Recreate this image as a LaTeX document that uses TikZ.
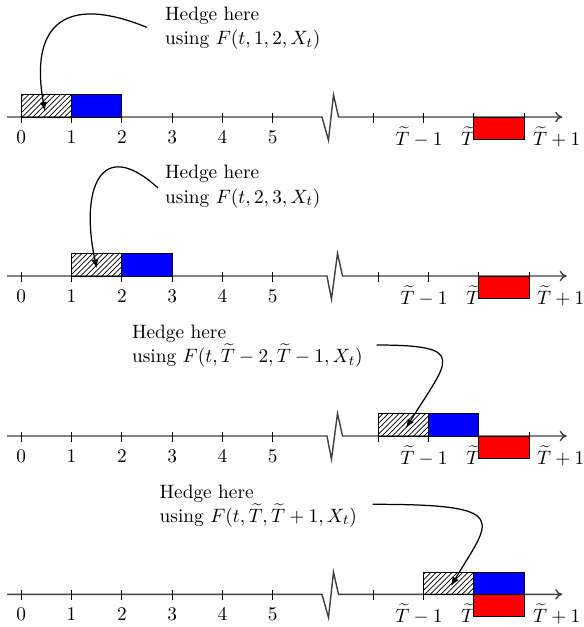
\documentclass[tikz,border=0pt]{standalone}
\usetikzlibrary{patterns,arrows.meta}
\newcommand\hedgefont{\fontsize{10.95}{13.6}\selectfont}
\begin{document}
\begin{tikzpicture}[
  axisline/.style={draw=black!75,line width=0.8pt,-{To[length=4pt,width=6pt]}},
  tickmark/.style={draw=black,line width=0.4pt},
  numlabel/.style={font=\hedgefont,anchor=base,inner sep=0pt},
  hedgetext/.style={font=\hedgefont,anchor=base west,inner sep=0pt},
  hatchbox/.style={draw=black,line width=0.5pt,pattern=north east lines},
  bluebox/.style={draw=black,line width=0.5pt,fill=blue},
  redbox/.style={draw=black,line width=0.5pt,fill=red},
  hedgearrow/.style={draw=black,line width=0.7pt,-{Latex[length=5pt,width=4pt]}}
]
\useasboundingbox (-0.4237,-10.145) rectangle (11.174,2.327);

% ---------------- Row 1 ----------------
\begin{scope}
\draw[axisline] (-0.284,0) -- (5.98,0) -- (6.11,-0.46) -- (6.21,0.44) -- (6.31,0) -- (10.76,0);
\foreach \i in {0,...,5} {\draw[tickmark] (\i,0.08) -- (\i,-0.12);
  \node[numlabel] (ra\i) at (\i,-0.52) {$\i$};}
\foreach \i in {7,8,9,10} \draw[tickmark] (\i,0.08) -- (\i,-0.12);
\node[numlabel] (raTm) at (7.91,-0.56) {$\widetilde{T}-1$};
\node[numlabel] (raT) at (8.89,-0.56) {$\widetilde{T}$};
\node[numlabel] (raTp) at (10.65,-0.56) {$\widetilde{T}+1$};
\draw[hatchbox] (0,0) rectangle (1,0.44);
\draw[bluebox] (1,0) rectangle (2,0.44);
\draw[redbox] (9,0) rectangle (10,-0.44);
\node[hedgetext] (rat) at (2.855,1.916) {\vtop{\hbox{Hedge here}\hbox{using $F(t,1,2,X_t)$}}};
\coordinate (ras) at (2.495,1.784);
\coordinate (rae) at (0.471,0.119);
\draw[hedgearrow] (ras) .. controls (0.770,2.486) and (0.173,1.731) .. (rae);
\end{scope}

% ---------------- Row 2 ----------------
\begin{scope}[yshift=-3.163cm]
\draw[axisline] (-0.284,0) -- (6.08,0) -- (6.17,-0.46) -- (6.29,0.45) -- (6.39,0) -- (10.85,0);
\foreach \i in {0,...,5} {\draw[tickmark] (\i,0.08) -- (\i,-0.12);
  \node[numlabel] (rb\i) at (\i,-0.52) {$\i$};}
\foreach \i in {7.1,8.1,9.1,10.1} \draw[tickmark] (\i,0.08) -- (\i,-0.12);
\node[numlabel] (rbTm) at (8.01,-0.56) {$\widetilde{T}-1$};
\node[numlabel] (rbT) at (8.99,-0.56) {$\widetilde{T}$};
\node[numlabel] (rbTp) at (10.73,-0.56) {$\widetilde{T}+1$};
\draw[hatchbox] (1,0) rectangle (2,0.44);
\draw[bluebox] (2,0) rectangle (3,0.44);
\draw[redbox] (9.1,0) rectangle (10.1,-0.44);
\node[hedgetext] (rbt) at (2.855,1.93) {\vtop{\hbox{Hedge here}\hbox{using $F(t,2,3,X_t)$}}};
\coordinate (rbs) at (2.719,1.751);
\coordinate (rbe) at (1.5,0.153);
\draw[hedgearrow] (rbs) .. controls (1.566,2.805) and (1.168,1.711) .. (rbe);
\end{scope}

% ---------------- Row 3 ----------------
\begin{scope}[yshift=-6.346cm]
\draw[axisline] (-0.284,0) -- (6.08,0) -- (6.17,-0.46) -- (6.29,0.45) -- (6.39,0) -- (10.85,0);
\foreach \i in {0,...,5} {\draw[tickmark] (\i,0.08) -- (\i,-0.12);
  \node[numlabel] (rc\i) at (\i,-0.52) {$\i$};}
\foreach \i in {7.1,8.1,9.1,10.1} \draw[tickmark] (\i,0.08) -- (\i,-0.12);
\node[numlabel] (rcTm) at (8.01,-0.56) {$\widetilde{T}-1$};
\node[numlabel] (rcT) at (8.99,-0.56) {$\widetilde{T}$};
\node[numlabel] (rcTp) at (10.73,-0.56) {$\widetilde{T}+1$};
\draw[hatchbox] (7.1,0) rectangle (8.1,0.44);
\draw[bluebox] (8.1,0) rectangle (9.1,0.44);
\draw[redbox] (9.1,0) rectangle (10.1,-0.44);
\node[hedgetext] (rct) at (2.196,1.943) {\vtop{\hbox{Hedge here}\hbox{using $F(t,\widetilde{T}-2,\widetilde{T}-1,X_t)$}}};
\coordinate (rcs) at (7.07,1.81);
\coordinate (rce) at (7.653,0.159);
\draw[hedgearrow] (rcs) .. controls (8.926,1.81) and (8.488,1.512) .. (rce);
\end{scope}

% ---------------- Row 4 ----------------
\begin{scope}[yshift=-9.495cm]
\draw[axisline] (-0.284,0) -- (5.98,0) -- (6.11,-0.46) -- (6.21,0.44) -- (6.31,0) -- (10.76,0);
\foreach \i in {0,...,5} {\draw[tickmark] (\i,0.08) -- (\i,-0.12);
  \node[numlabel] (rd\i) at (\i,-0.52) {$\i$};}
\foreach \i in {7,8,9,10} \draw[tickmark] (\i,0.08) -- (\i,-0.12);
\node[numlabel] (rdTm) at (7.91,-0.56) {$\widetilde{T}-1$};
\node[numlabel] (rdT) at (8.89,-0.56) {$\widetilde{T}$};
\node[numlabel] (rdTp) at (10.65,-0.56) {$\widetilde{T}+1$};
\draw[hatchbox] (8,0) rectangle (9,0.44);
\draw[bluebox] (9,0) rectangle (10,0.44);
\draw[redbox] (9,0) rectangle (10,-0.44);
\node[hedgetext] (rdt) at (2.745,1.916) {\vtop{\hbox{Hedge here}\hbox{using $F(t,\widetilde{T},\widetilde{T}+1,X_t)$}}};
\coordinate (rds) at (6.99,1.79);
\coordinate (rde) at (8.548,0.165);
\draw[hedgearrow] (rds) .. controls (9.82,1.796) and (9.324,1.478) .. (rde);
\end{scope}
\end{tikzpicture}
\end{document}
